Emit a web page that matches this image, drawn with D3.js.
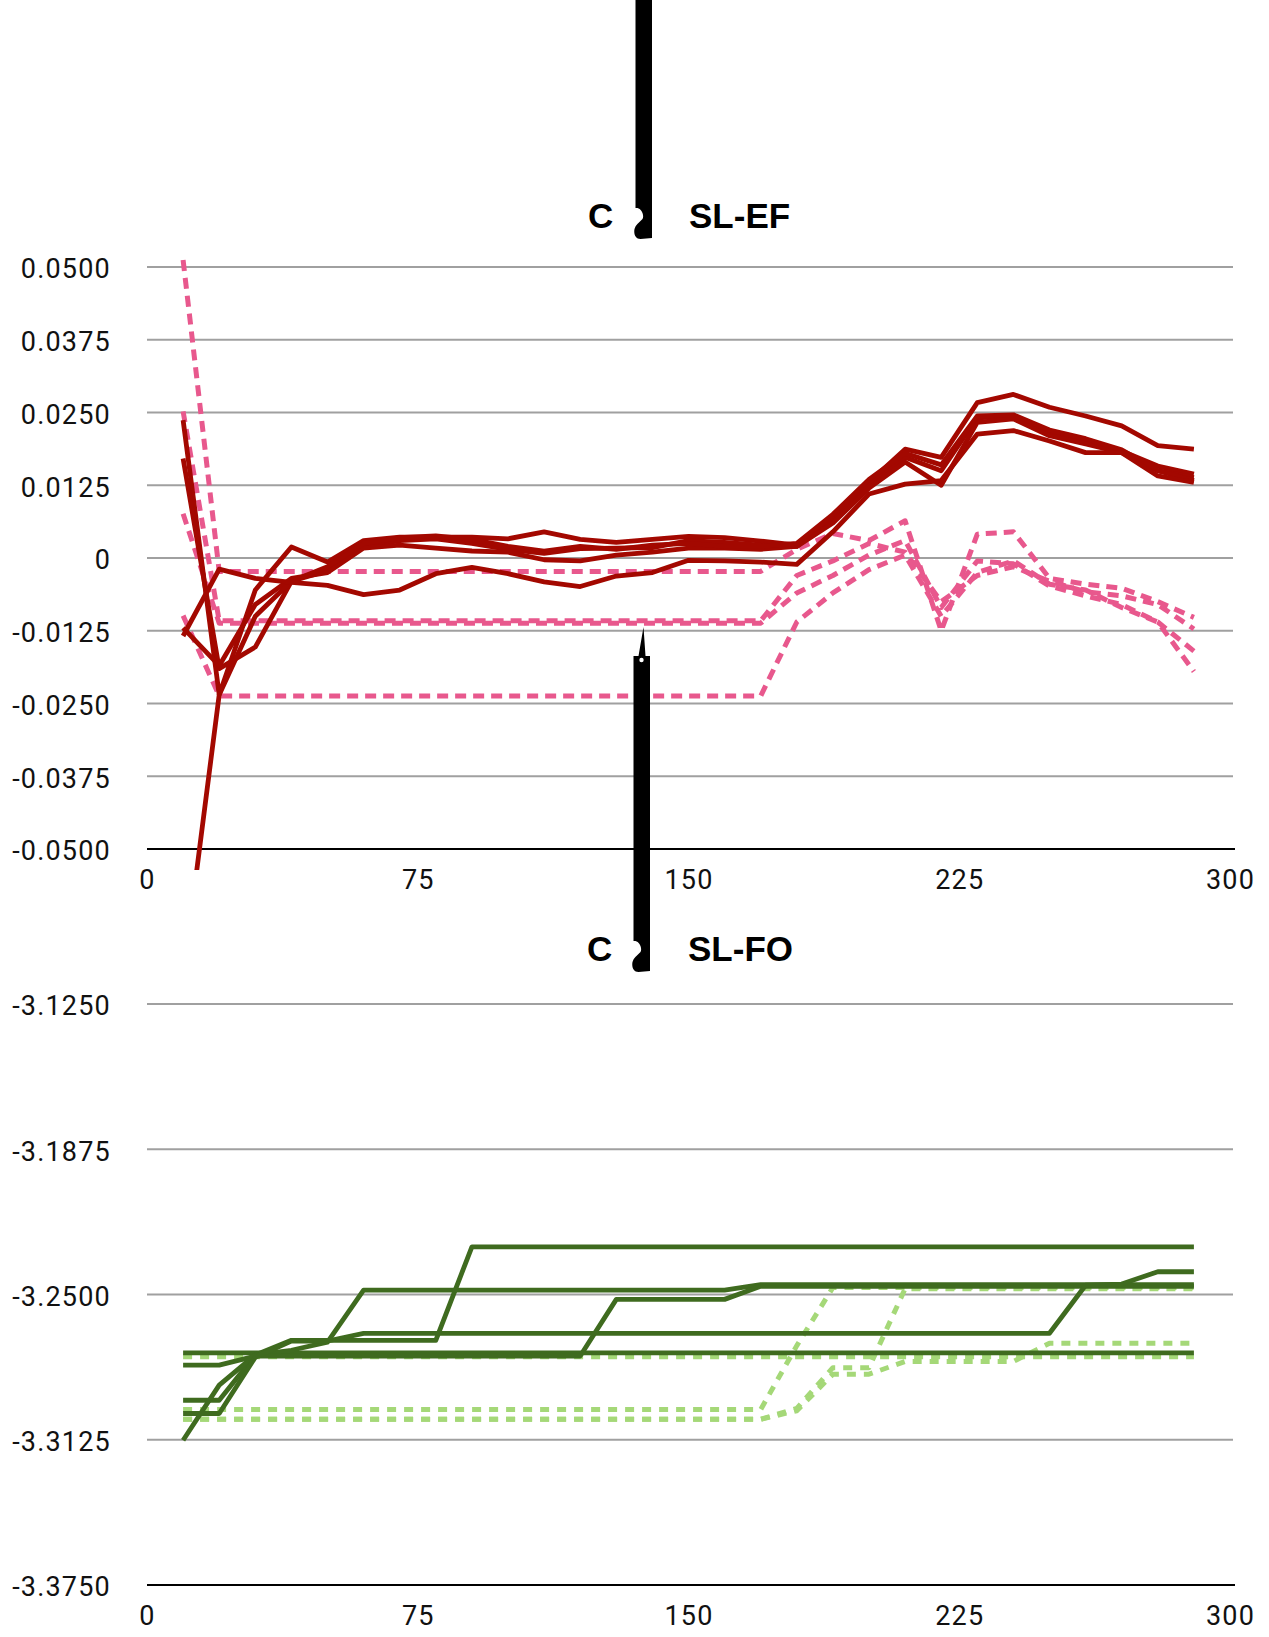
<!DOCTYPE html>
<html>
<head>
<meta charset="utf-8">
<script src="https://cdn.jsdelivr.net/npm/d3@7"></script>
<style>
  body { margin: 0; background: #fff; }
  svg { display: block; }
  .tick-label { font-family: Roboto, "Noto Sans", sans-serif; font-size: 27px; letter-spacing: 1.2px; fill: #111; }
  .title { font-family: "Liberation Sans", Arial, sans-serif; font-weight: bold; font-size: 35px; fill: #000; }
</style>
</head>
<body>
<svg id="chart" width="1269" height="1637"></svg>
<script>
// sample positions shared by every series
const xValues = d3.range(10, 300, 10);

// ---- C · SL-EF : solid series ----
const efSolidA = [0.0237,-0.0235,-0.0055,0.0019,-0.0007,0.0030,0.0036,0.0036,0.0036,0.0033,0.0045,0.0032,0.0027,0.0032,0.0037,0.0035,0.0029,0.0022,0.0070,0.0130,0.0187,0.0173,0.0267,0.0281,0.0259,0.0244,0.0227,0.0193,0.0187];
const efSolidB = [0.0171,-0.0190,-0.0153,-0.0040,-0.0022,0.0020,0.0030,0.0033,0.0025,0.0015,0.0008,0.0016,0.0017,0.0018,0.0030,0.0027,0.0022,0.0020,0.0068,0.0125,0.0173,0.0150,0.0241,0.0244,0.0215,0.0200,0.0184,0.0158,0.0144];
const efSolidC = [-0.0120,-0.0185,-0.0080,-0.0035,-0.0025,0.0017,0.0022,0.0017,0.0012,0.0010,-0.0003,-0.0005,0.0005,0.0010,0.0017,0.0017,0.0015,0.0020,0.0060,0.0120,0.0165,0.0125,0.0233,0.0239,0.0210,0.0196,0.0181,0.0150,0.0138];
const efSolidD = [-0.0720,-0.0235,-0.0100,-0.0040,-0.0015,0.0025,0.0035,0.0038,0.0032,0.0020,0.0012,0.0020,0.0015,0.0022,0.0025,0.0020,0.0020,0.0025,0.0075,0.0135,0.0180,0.0160,0.0244,0.0246,0.0220,0.0205,0.0186,0.0150,0.0133];
const efSolidE = [-0.0134,-0.0019,-0.0035,-0.0042,-0.0047,-0.0063,-0.0055,-0.0027,-0.0016,-0.0027,-0.0041,-0.0049,-0.0031,-0.0025,-0.0004,-0.0005,-0.0007,-0.0011,0.0045,0.0110,0.0127,0.0133,0.0213,0.0219,0.0201,0.0181,0.0181,0.0141,0.0130];

// ---- C · SL-EF : dashed series ----
const efDashedA = [0.0512,-0.0023,-0.0023,-0.0023,-0.0023,-0.0023,-0.0023,-0.0023,-0.0023,-0.0023,-0.0023,-0.0023,-0.0023,-0.0023,-0.0023,-0.0023,-0.0023,0.0015,0.0042,0.0030,0.0064,-0.0125,0.0041,0.0045,-0.0035,-0.0045,-0.0052,-0.0075,-0.0102];
const efDashedB = [0.0252,-0.0108,-0.0108,-0.0108,-0.0108,-0.0108,-0.0108,-0.0108,-0.0108,-0.0108,-0.0108,-0.0108,-0.0108,-0.0108,-0.0108,-0.0108,-0.0108,-0.0030,-0.0005,0.0025,0.0010,-0.0075,-0.0030,-0.0015,-0.0040,-0.0058,-0.0065,-0.0080,-0.0122];
const efDashedC = [0.0076,-0.0112,-0.0112,-0.0112,-0.0112,-0.0112,-0.0112,-0.0112,-0.0112,-0.0112,-0.0112,-0.0112,-0.0112,-0.0112,-0.0112,-0.0112,-0.0112,-0.0060,-0.0030,0.0005,0.0030,-0.0085,-0.0005,-0.0010,-0.0048,-0.0065,-0.0080,-0.0110,-0.0160];
const efDashedD = [-0.0099,-0.0237,-0.0237,-0.0237,-0.0237,-0.0237,-0.0237,-0.0237,-0.0237,-0.0237,-0.0237,-0.0237,-0.0237,-0.0237,-0.0237,-0.0237,-0.0237,-0.0110,-0.0060,-0.0020,0.0005,-0.0100,-0.0025,-0.0005,-0.0045,-0.0055,-0.0085,-0.0110,-0.0195];

// ---- C · SL-FO : solid series ----
const foSolidA = [-3.2751,-3.2751,-3.2751,-3.2751,-3.2751,-3.2751,-3.2751,-3.2751,-3.2751,-3.2751,-3.2751,-3.2751,-3.2751,-3.2751,-3.2751,-3.2751,-3.2751,-3.2751,-3.2751,-3.2751,-3.2751,-3.2751,-3.2751,-3.2751,-3.2751,-3.2751,-3.2751,-3.2751,-3.2751];
const foSolidB = [-3.2955,-3.2955,-3.2760,-3.2697,-3.2697,-3.2697,-3.2697,-3.2697,-3.2295,-3.2295,-3.2295,-3.2295,-3.2295,-3.2295,-3.2295,-3.2295,-3.2295,-3.2295,-3.2295,-3.2295,-3.2295,-3.2295,-3.2295,-3.2295,-3.2295,-3.2295,-3.2295,-3.2295,-3.2295];
const foSolidC = [-3.3127,-3.2890,-3.2760,-3.2740,-3.2705,-3.2481,-3.2481,-3.2481,-3.2481,-3.2481,-3.2481,-3.2481,-3.2481,-3.2481,-3.2481,-3.2481,-3.2458,-3.2458,-3.2458,-3.2458,-3.2458,-3.2458,-3.2458,-3.2458,-3.2458,-3.2458,-3.2458,-3.2458,-3.2458];
const foSolidD = [-3.2804,-3.2804,-3.2765,-3.2765,-3.2765,-3.2765,-3.2765,-3.2765,-3.2765,-3.2765,-3.2765,-3.2765,-3.2521,-3.2521,-3.2521,-3.2521,-3.2465,-3.2465,-3.2465,-3.2465,-3.2465,-3.2465,-3.2465,-3.2465,-3.2465,-3.2465,-3.2465,-3.2465,-3.2465];
const foSolidE = [-3.3012,-3.3012,-3.2770,-3.2700,-3.2700,-3.2667,-3.2667,-3.2667,-3.2667,-3.2667,-3.2667,-3.2667,-3.2667,-3.2667,-3.2667,-3.2667,-3.2667,-3.2667,-3.2667,-3.2667,-3.2667,-3.2667,-3.2667,-3.2667,-3.2667,-3.2460,-3.2455,-3.2402,-3.2402];

// ---- C · SL-FO : dashed series ----
const foDashedA = [-3.2768,-3.2768,-3.2768,-3.2768,-3.2768,-3.2768,-3.2768,-3.2768,-3.2768,-3.2768,-3.2768,-3.2768,-3.2768,-3.2768,-3.2768,-3.2768,-3.2768,-3.2768,-3.2768,-3.2768,-3.2768,-3.2768,-3.2768,-3.2768,-3.2768,-3.2768,-3.2768,-3.2768,-3.2768];
const foDashedB = [-3.2995,-3.2995,-3.2995,-3.2995,-3.2995,-3.2995,-3.2995,-3.2995,-3.2995,-3.2995,-3.2995,-3.2995,-3.2995,-3.2995,-3.2995,-3.2995,-3.2995,-3.2720,-3.2470,-3.2470,-3.2470,-3.2470,-3.2470,-3.2470,-3.2470,-3.2470,-3.2470,-3.2470,-3.2470];
const foDashedC = [-3.3037,-3.3037,-3.3037,-3.3037,-3.3037,-3.3037,-3.3037,-3.3037,-3.3037,-3.3037,-3.3037,-3.3037,-3.3037,-3.3037,-3.3037,-3.3037,-3.3037,-3.2990,-3.2815,-3.2815,-3.2475,-3.2475,-3.2475,-3.2475,-3.2475,-3.2475,-3.2475,-3.2475,-3.2475];
const foDashedD = [-3.3037,-3.3037,-3.3037,-3.3037,-3.3037,-3.3037,-3.3037,-3.3037,-3.3037,-3.3037,-3.3037,-3.3037,-3.3037,-3.3037,-3.3037,-3.3037,-3.3037,-3.3000,-3.2843,-3.2843,-3.2788,-3.2788,-3.2788,-3.2788,-3.2710,-3.2710,-3.2710,-3.2710,-3.2710];

// axis ticks
const xTicks = [0, 75, 150, 225, 300];
const efTicks = [0.05, 0.0375, 0.025, 0.0125, 0, -0.0125, -0.025, -0.0375, -0.05];
const efTickLabels = ["0.0500", "0.0375", "0.0250", "0.0125", "0", "-0.0125", "-0.0250", "-0.0375", "-0.0500"];
const foTicks = [-3.125, -3.1875, -3.25, -3.3125, -3.375];
const foTickLabels = ["-3.1250", "-3.1875", "-3.2500", "-3.3125", "-3.3750"];

const svg = d3.select("#chart");
const plotLeft = 147, plotRight = 1233;
const x = d3.scaleLinear().domain([0, 300]).range([plotLeft, 1230]);

// the odd tall glyph that sits between the two words of each title
function titleGlyph(L, b) {
  const R = L + 16.5, top = b - 305;
  return `M${L},${top} L${L + 5},${top} L${L + 10},${b - 334} L${L + 12},${top} L${R},${top} ` +
         `L${R},${b + 10} L${L + 5},${b + 11} C${L},${b + 11} ${L - 2},${b + 6} ${L - 1},${b + 1} ` +
         `C${L},${b - 3} ${L + 3},${b - 5} ${L + 7},${b - 9} C${L + 9},${b - 13} ${L + 6},${b - 19} ${L + 2},${b - 20} ` +
         `L${L},${b - 20} Z`;
}

function drawPanel(p) {
  const g = svg.append("g");
  const y = d3.scaleLinear().domain(p.domain).range([p.bottom, p.top]);

  // title
  g.append("text").attr("class", "title").attr("x", p.titleX).attr("y", p.titleY).text("C");
  g.append("text").attr("class", "title").attr("x", p.titleX + 101).attr("y", p.titleY).text(p.name);
  g.append("path").attr("d", titleGlyph(p.titleX + p.glyphDx, p.titleY)).attr("fill", "#000");
  g.append("circle").attr("cx", p.titleX + p.glyphDx + 8).attr("cy", p.titleY - 301).attr("r", 2.2).attr("fill", "#fff");

  // gridlines (the lowest tick is the axis itself)
  g.append("g").selectAll("line").data(p.ticks.slice(0, -1)).join("line")
    .attr("x1", plotLeft).attr("x2", plotRight)
    .attr("y1", d => y(d)).attr("y2", d => y(d))
    .attr("stroke", "#a0a0a0").attr("stroke-width", 2);

  // y axis labels
  const yAxis = g.append("g").attr("transform", `translate(${plotLeft},0)`)
    .call(d3.axisLeft(y).tickValues(p.ticks).tickFormat((d, i) => p.labels[i]).tickSize(0).tickPadding(36));
  yAxis.select(".domain").remove();
  yAxis.selectAll("text").attr("class", "tick-label").attr("dy", "0.4em").attr("font-family", null).attr("font-size", null);

  // x axis labels
  const xAxis = g.append("g").attr("transform", `translate(0,${p.bottom})`)
    .call(d3.axisBottom(x).tickValues(xTicks).tickFormat(d3.format("d")).tickSize(0).tickPadding(21));
  xAxis.select(".domain").remove();
  xAxis.selectAll("text").attr("class", "tick-label").attr("font-family", null).attr("font-size", null);

  // baseline
  g.append("line").attr("x1", plotLeft).attr("x2", 1235)
    .attr("y1", p.bottom).attr("y2", p.bottom).attr("stroke", "#000").attr("stroke-width", 2);

  // series
  const clipId = "clip-" + p.name;
  svg.append("clipPath").attr("id", clipId).append("rect")
    .attr("x", 0).attr("y", p.top - 40).attr("width", 1269).attr("height", p.bottom - p.top + 61);
  const line = d3.line().x((d, i) => x(xValues[i])).y(d => y(d));
  const lines = g.append("g").attr("clip-path", `url(#${clipId})`);
  p.dashed.forEach(s => lines.append("path").attr("d", line(s)).attr("fill", "none")
    .attr("stroke", p.dashColor).attr("stroke-width", 5).attr("stroke-dasharray", p.dashArray)
    .attr("stroke-linejoin", "round"));
  p.solid.forEach(s => lines.append("path").attr("d", line(s)).attr("fill", "none")
    .attr("stroke", p.solidColor).attr("stroke-width", 4.8).attr("stroke-linejoin", "round"));
}

drawPanel({
  name: "SL-EF", domain: [-0.05, 0.05], top: 267, bottom: 849,
  ticks: efTicks, labels: efTickLabels,
  titleX: 588, titleY: 228, glyphDx: 47.5,
  solid: [efSolidA, efSolidB, efSolidC, efSolidD, efSolidE],
  dashed: [efDashedA, efDashedB, efDashedC, efDashedD],
  solidColor: "#a30800", dashColor: "#e8588d", dashArray: "11 7"
});

drawPanel({
  name: "SL-FO", domain: [-3.375, -3.125], top: 1004, bottom: 1585,
  ticks: foTicks, labels: foTickLabels,
  titleX: 587, titleY: 961, glyphDx: 46.5,
  solid: [foSolidA, foSolidB, foSolidC, foSolidD, foSolidE],
  dashed: [foDashedA, foDashedB, foDashedC, foDashedD],
  solidColor: "#3f6b1f", dashColor: "#a5d878", dashArray: "9 8"
});
</script>
</body>
</html>
